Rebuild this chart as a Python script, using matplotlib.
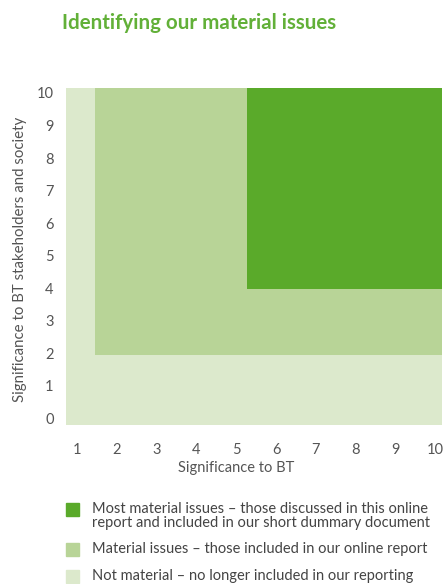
import matplotlib.pyplot as plt
from matplotlib.patches import Rectangle

# materiality zones: left/bottom edge of each block, all run to the top-right corner
zones = ['Not material', 'Material', 'Most material']
zone_x0 = [0.72, 1.45, 5.27]
zone_y0 = [-0.2, 1.95, 3.97]
x_max = 10.17
y_max = 10.15
zone_colors = ['#dce9cc', '#b8d497', '#5aaa2a']

x_ticks = [1, 2, 3, 4, 5, 6, 7, 8, 9, 10]
y_ticks = [0, 1, 2, 3, 4, 5, 6, 7, 8, 9, 10]

legend_labels = [
    'Most material issues \u2013 those discussed in this online\nreport and included in our short dummary document',
    'Material issues \u2013 those included in our online report',
    'Not material \u2013 no longer included in our reporting',
]

plt.rcParams['font.family'] = ['Lato', 'DejaVu Sans']

fig = plt.figure(figsize=(4.44, 5.84), dpi=100)
ax = fig.add_axes([66 / 444, 1 - 425 / 584, 376 / 444, 337 / 584])

for x0, y0, c in zip(zone_x0, zone_y0, zone_colors):
    ax.bar(x0, y_max - y0, width=x_max - x0, bottom=y0, align='edge',
           color=c, linewidth=0)

ax.set_xlim(zone_x0[0], x_max)
ax.set_ylim(zone_y0[0], y_max)
ax.set_xticks(x_ticks)
ax.set_yticks(y_ticks)
ax.tick_params(length=0, labelsize=10.5, labelcolor='#555555')
ax.tick_params(axis='x', pad=13)
ax.tick_params(axis='y', pad=9)
for s in ax.spines.values():
    s.set_visible(False)
ax.set_xlabel('Significance to BT', fontsize=10.5, color='#555555')
ax.set_ylabel('Significance to BT stakeholders and society', fontsize=10.8,
              color='#555555')
ax.xaxis.set_label_coords(0.452, -0.108)
ax.yaxis.set_label_coords(-0.104, 0.49)

fig.text(62 / 444, 1 - 23 / 584, 'Identifying our material issues',
         fontsize=14.8, fontweight='bold', color='#62b038', va='center')

# legend drawn by hand so the two-line entry lines up
sq_y = [509, 549, 576]
text_y = [516, 549, 576]
for i, (lab, c) in enumerate(zip(legend_labels, zone_colors[::-1])):
    fig.patches.append(Rectangle((66 / 444, 1 - (sq_y[i] + 6.5) / 584),
                                 13 / 444, 13 / 584, color=c,
                                 transform=fig.transFigure, figure=fig))
    fig.text(92 / 444, 1 - text_y[i] / 584, lab, fontsize=10.5,
             color='#444444', va='center', linespacing=1.05)

fig.savefig('out.png', dpi=100)
